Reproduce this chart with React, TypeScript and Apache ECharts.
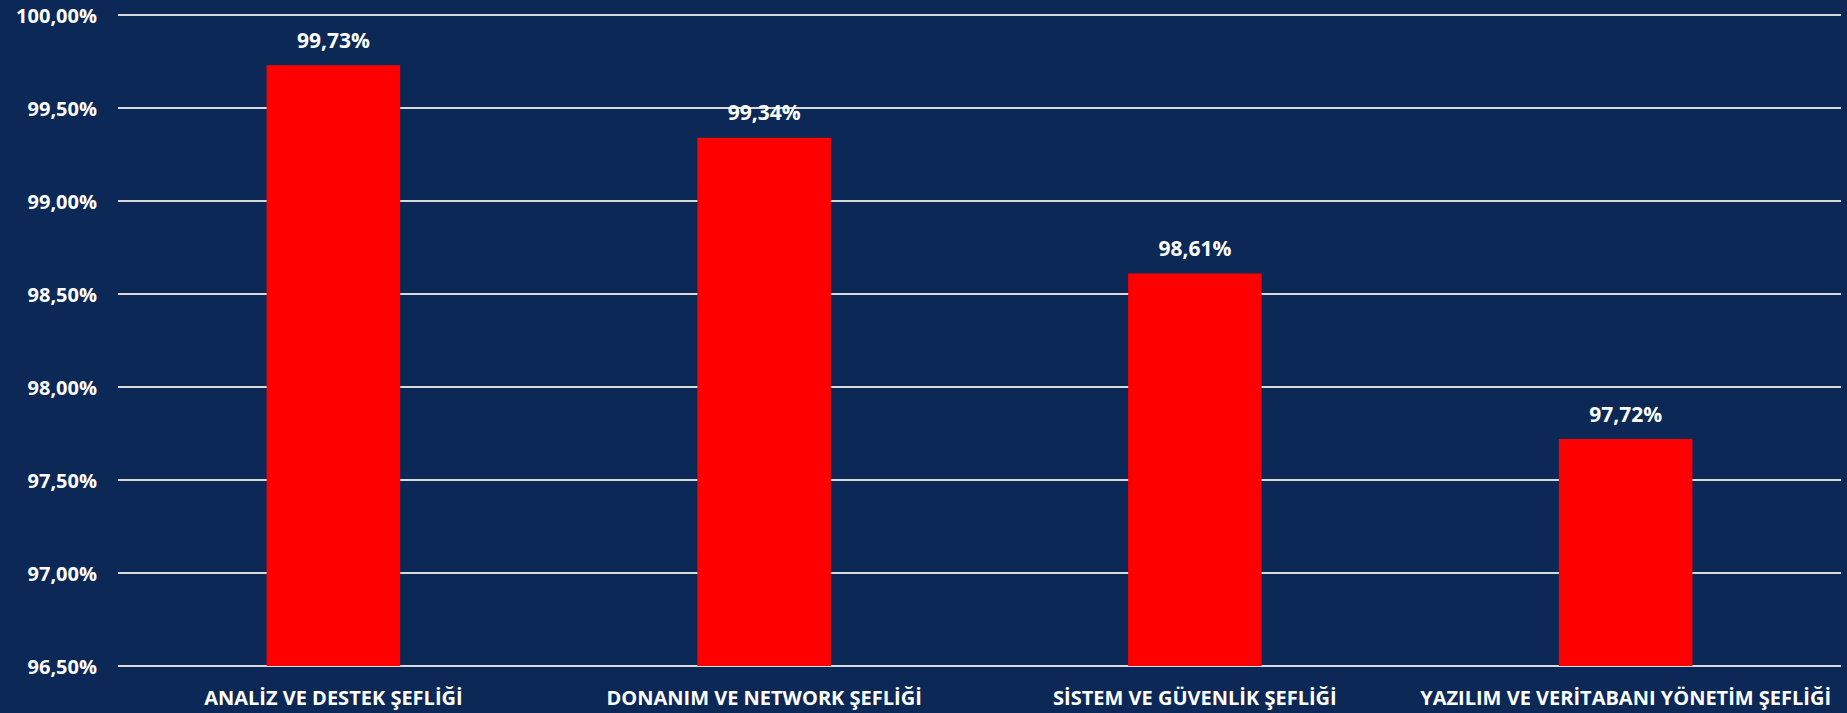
import React, { useEffect, useRef } from "react";
import * as echarts from "echarts";

const categories = [
  "ANALİZ VE DESTEK ŞEFLİĞİ",
  "DONANIM VE NETWORK ŞEFLİĞİ",
  "SİSTEM VE GÜVENLİK ŞEFLİĞİ",
  "YAZILIM VE VERİTABANI YÖNETİM ŞEFLİĞİ",
];
const values = [99.73, 99.34, 98.61, 97.72];
const yMin = 96.5;
const yMax = 100;
const yStep = 0.5;

const fmt = (v: number) => v.toFixed(2).replace(".", ",") + "%";

export default function App() {
  const ref = useRef<HTMLDivElement>(null);
  useEffect(() => {
    if (!ref.current) return;
    const chart = echarts.init(ref.current, undefined, { renderer: "svg" });
    const font = "'Open Sans', 'Noto Sans', sans-serif";
    chart.setOption({
      animation: false,
      backgroundColor: "#0b2856",
      grid: { left: 118, right: 6, top: 15, bottom: 47, containLabel: false },
      xAxis: {
        type: "category",
        data: categories,
        axisLine: { show: false },
        axisTick: { show: false },
        axisLabel: {
          color: "#ffffff",
          fontFamily: font,
          fontWeight: "bold",
          fontSize: 20,
          margin: 21,
          interval: 0,
        },
      },
      yAxis: {
        type: "value",
        min: yMin,
        max: yMax,
        interval: yStep,
        axisLine: { show: false },
        axisTick: { show: false },
        axisLabel: {
          color: "#ffffff",
          fontFamily: font,
          fontWeight: "bold",
          fontSize: 20,
          margin: 21,
          formatter: (v: number) => fmt(v),
        },
        splitLine: { show: true, lineStyle: { color: "#d9d9d9", width: 2 } },
      },
      series: [
        {
          type: "bar",
          data: values,
          barWidth: "31%",
          itemStyle: { color: "#ff0000" },
          label: {
            show: true,
            position: "top",
            distance: 15,
            color: "#ffffff",
            fontFamily: font,
            fontWeight: "bold",
            fontSize: 21,
            formatter: (p: any) => fmt(p.value),
          },
        },
      ],
    });
    return () => chart.dispose();
  }, []);
  return (
    <div
      ref={ref}
      style={{ position: "fixed", left: 0, top: 0, width: 1847, height: 713 }}
    />
  );
}
